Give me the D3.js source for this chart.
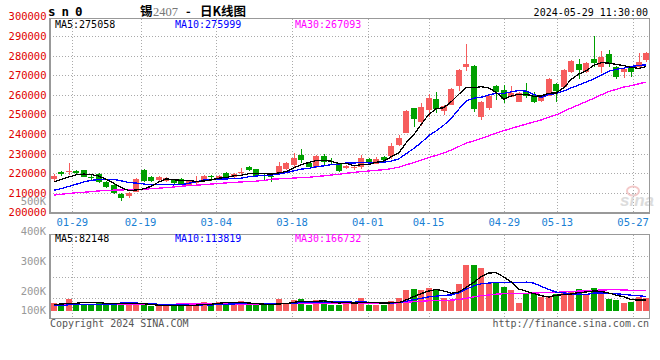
<!DOCTYPE html>
<html>
<head>
<meta charset="utf-8">
<script src="https://cdn.jsdelivr.net/npm/d3@7"></script>
<style>
  body { margin: 0; background: #fff; }
  svg { display: block; }
</style>
</head>
<body>
<div class="chart"></div>
<script>
// trading days shown (sn2407, daily)
const dates = ["01-24","01-25","01-26","01-29","01-30","01-31","02-01","02-02","02-05","02-06",
  "02-07","02-08","02-19","02-20","02-21","02-22","02-23","02-26","02-27","02-28",
  "02-29","03-01","03-04","03-05","03-06","03-07","03-08","03-11","03-12","03-13",
  "03-14","03-15","03-18","03-19","03-20","03-21","03-22","03-25","03-26","03-27",
  "03-28","03-29","04-01","04-02","04-03","04-08","04-09","04-10","04-11","04-12",
  "04-15","04-16","04-17","04-18","04-19","04-22","04-23","04-24","04-25","04-26",
  "04-29","04-30","05-06","05-07","05-08","05-09","05-10","05-13","05-14","05-15",
  "05-16","05-17","05-20","05-21","05-22","05-23","05-24","05-27","05-28","05-29"];

const opens = [217200,220900,220600,221000,221800,218400,219800,215800,214000,209300,
  208500,210800,221800,218400,216700,216300,217100,217100,214200,215400,
  216200,218700,216700,220100,218100,220300,223500,222200,219100,218700,
  219800,222200,224400,229300,225200,223200,228900,226100,225200,222700,
  223000,223500,227300,224900,228600,229100,234600,240800,253400,246300,
  252400,258000,252000,254900,264600,274200,275000,248700,253300,264600,
  262300,259200,256600,261700,260100,257100,259500,265700,264300,271600,
  275900,271600,278400,274200,281000,274200,271600,273700,274200,277900];

const closes = [218900,219700,221100,220400,218400,217600,215800,213300,209800,207700,
  209800,217200,216400,216300,218400,217900,215000,214700,216300,215800,
  218900,218100,218900,218100,219800,220600,221800,218900,218600,218200,
  223800,225500,228100,226900,223500,229100,226000,225600,221400,223800,
  223300,228100,226000,227400,226900,234000,238000,252000,247700,253800,
  258700,252900,254400,263000,272800,275700,252900,256600,259700,261700,
  258200,261200,261200,259500,256600,258900,268100,262200,272800,277500,
  272800,276500,276200,279300,276500,269400,273300,271900,276700,281300];

const highs = [219900,221400,225100,221800,222000,219600,220300,216300,214400,209800,
  210300,217700,222500,218900,218900,218200,217400,217600,216800,218900,
  219300,219100,219200,220900,220200,222700,223800,222500,219600,219300,
  226000,226000,230300,232500,225800,229400,230000,227800,225500,224300,
  224300,229400,227800,228600,229100,235700,239600,252400,253600,256000,
  260300,261700,255100,263600,273300,286100,275100,257000,260000,265100,
  265200,264600,261600,266300,261700,259200,268400,266200,273100,277900,
  278300,276900,290100,282600,283000,274600,274200,274100,281300,282100];

const lows = [216300,218900,219000,219600,218200,216700,215300,212800,209600,206200,
  207700,210400,215800,215500,215700,215500,214500,214200,213900,214200,
  215900,216300,216500,217200,217800,218700,221500,218600,216700,215900,
  219200,221800,223500,225500,223200,222900,223800,224900,220900,222200,
  221800,222200,224400,224700,226500,227300,234200,240500,243900,244200,
  248700,250700,249800,254700,262100,272400,251500,247300,252400,257500,
  255800,258900,256200,258400,255800,256600,259300,256600,264100,271100,
  268200,271400,274500,271100,274500,268200,268600,269400,273700,277000];

const volumes = [74000,63000,108000,74000,63000,63000,74000,63000,74000,74000,
  51000,74000,51000,42000,42000,42000,63000,42000,42000,74000,
  83000,63000,83000,74000,63000,90000,51000,51000,51000,51000,
  108000,74000,99000,108000,51000,99000,99000,54000,54000,74000,
  74000,116000,54000,54000,54000,90000,116000,188000,197000,188000,
  206000,188000,116000,99000,242000,412000,412000,385000,251000,260000,
  215000,188000,72000,152000,152000,125000,125000,152000,179000,179000,
  197000,143000,206000,152000,108000,99000,72000,81000,128000,114000];

// MA values before enough days are in view
const ma5Lead = [215700,217000,218200,219300];
const ma10Lead = [211400,212300,213400,214500,215700,216500,216900,217000,216900];
const ma30Lead = [209000,209400,209800,210200,210400,210700,211100,211300,211500,211600,
  211700,211900,212000,212200,212500,212800,213100,213500,213800,214000,
  214300,214600,214900,215200,215400,215700,215800,216100,216400];
const volMa5Lead = [60000,62000,68000,70000];
const volMa10Lead = [47000,47000,56000,56000,56000,56000,56000,56000,56000];
const volMa30Lead = [59000,59000,59000,60000,60000,60000,60000,60000,60000,60000,
  61000,61000,61000,61000,61000,61000,61000,62000,62000,62000,
  62000,62000,62000,63000,63000,63000,63000,63000,63000];

const dateTicks = ["01-29","02-19","03-04","03-18","04-01","04-15","04-29","05-13","05-27"];
const priceTicks = [300000,290000,280000,270000,260000,250000,240000,230000,220000,210000,200000];
const volTicks = [500000,400000,300000,200000,100000];
const volTickLabels = ["500K","400K","300K","200K","100K"];

const width = 660, height = 360;
const left = 50, right = 649.5;
const pTop = 18.5, pBottom = 213;
const vTop = 234.5, vBottom = 318.5;

const up = "#f65d5d", down = "#00a000", grid = "#aaa", frame = "#999";

const svg = d3.select(".chart")
    .append("svg")
    .attr("width", width)
    .attr("height", height)
    .style("font-family", "'DejaVu Sans Mono', monospace");

const x = d3.scaleBand()
    .domain(dates)
    .range([left, 650])
    .paddingInner(0.25)
    .paddingOuter(0.125);
const bw = x.bandwidth();
const cx = d => Math.round(x(d) + bw / 2) + 0.5;

// sina places its date grid on a slightly different step
const gridX = d3.scalePoint()
    .domain(dates)
    .range([49.6, 648.3]);

const y = d3.scaleLinear()
    .domain([200000, 300000])
    .range([212.7, 16.5]);

const vy = d3.scaleLinear()
    .domain([0, 690000])
    .range([311, 234]);

const vLabelY = d3.scaleLinear()
    .domain([200000, 500000])
    .range([291, 201]);

function movingAvg(values, n, lead) {
    return values.map((v, i) => i < n - 1 ? lead[i] : d3.mean(values.slice(i - n + 1, i + 1)));
}

const px = v => Math.round(v) + 0.5;

// ---- grids
const gp = svg.append("g").attr("shape-rendering", "crispEdges");
gp.selectAll(".hg")
    .data(priceTicks.filter(t => t > 200000 && t < 300000))
    .enter().append("line")
    .attr("x1", left).attr("x2", right)
    .attr("y1", d => px(y(d))).attr("y2", d => px(y(d)))
    .attr("stroke", grid).attr("stroke-dasharray", "1,2");

gp.selectAll(".vg")
    .data(dateTicks)
    .enter().append("line")
    .attr("x1", d => px(gridX(d))).attr("x2", d => px(gridX(d)))
    .attr("y1", pTop).attr("y2", pBottom)
    .attr("stroke", grid).attr("stroke-dasharray", "1,2");

gp.selectAll(".vhg")
    .data([1, 2, 3])
    .enter().append("line")
    .attr("x1", left).attr("x2", right)
    .attr("y1", d => px(vTop + (vBottom - vTop) * d / 4))
    .attr("y2", d => px(vTop + (vBottom - vTop) * d / 4))
    .attr("stroke", grid).attr("stroke-dasharray", "1,2");

gp.selectAll(".vvg")
    .data(dateTicks)
    .enter().append("line")
    .attr("x1", d => px(gridX(d))).attr("x2", d => px(gridX(d)))
    .attr("y1", vTop).attr("y2", vBottom)
    .attr("stroke", grid).attr("stroke-dasharray", "1,2");

// ---- sina watermark
const wm = svg.append("g").attr("opacity", 0.9);
wm.append("ellipse").attr("cx", 633).attr("cy", 191).attr("rx", 6).attr("ry", 4.5)
    .attr("fill", "none").attr("stroke", "#f3c4c4").attr("stroke-width", 2);
wm.append("text").attr("x", 620).attr("y", 206)
    .attr("font-family", "Arial, 'Liberation Sans', sans-serif")
    .attr("font-size", 17).attr("font-weight", "bold").attr("font-style", "italic")
    .attr("fill", "#d9d9d9").text("sina");

// ---- candles
const candles = svg.append("g").attr("shape-rendering", "crispEdges")
    .selectAll("g")
    .data(dates)
    .enter().append("g");

candles.append("line")
    .attr("x1", d => cx(d)).attr("x2", d => cx(d))
    .attr("y1", (d, i) => y(highs[i]))
    .attr("y2", (d, i) => y(lows[i]))
    .attr("stroke", (d, i) => closes[i] >= opens[i] ? up : down);

candles.append("rect")
    .attr("x", d => x(d))
    .attr("width", bw)
    .attr("y", (d, i) => y(Math.max(opens[i], closes[i])))
    .attr("height", (d, i) => Math.max(1, Math.abs(y(opens[i]) - y(closes[i]))))
    .attr("fill", (d, i) => closes[i] >= opens[i] ? up : down);

// ---- price MAs
const priceLine = d3.line()
    .x((d, i) => x(dates[i]) + bw / 2)
    .y(d => y(d));

const priceMAs = [
    { values: movingAvg(closes, 30, ma30Lead), color: "#ff00ff" },
    { values: movingAvg(closes, 10, ma10Lead), color: "#0000ff" },
    { values: movingAvg(closes, 5, ma5Lead), color: "#000" }
];
svg.append("g").selectAll("path")
    .data(priceMAs)
    .enter().append("path")
    .attr("d", d => priceLine(d.values))
    .attr("fill", "none")
    .attr("stroke", d => d.color)
    .attr("stroke-width", 1.3)
    .attr("shape-rendering", "crispEdges");

// ---- volume bars
svg.append("g").attr("shape-rendering", "crispEdges")
    .selectAll("rect")
    .data(dates)
    .enter().append("rect")
    .attr("x", d => x(d))
    .attr("width", bw)
    .attr("y", (d, i) => vy(volumes[i]))
    .attr("height", (d, i) => vy(0) - vy(volumes[i]))
    .attr("fill", (d, i) => closes[i] >= opens[i] ? up : down);

const volLine = d3.line()
    .x((d, i) => x(dates[i]) + bw / 2)
    .y(d => vy(d));

const volMAs = [
    { values: movingAvg(volumes, 30, volMa30Lead), color: "#ff00ff" },
    { values: movingAvg(volumes, 10, volMa10Lead), color: "#0000ff" },
    { values: movingAvg(volumes, 5, volMa5Lead), color: "#000" }
];
svg.append("g").selectAll("path")
    .data(volMAs)
    .enter().append("path")
    .attr("d", d => volLine(d.values))
    .attr("fill", "none")
    .attr("stroke", d => d.color)
    .attr("stroke-width", 1.3)
    .attr("shape-rendering", "crispEdges");

// ---- frames
svg.append("g").attr("shape-rendering", "crispEdges")
    .selectAll("rect")
    .data([[pTop, pBottom], [vTop, vBottom]])
    .enter().append("rect")
    .attr("x", left).attr("y", d => d[0])
    .attr("width", right - left).attr("height", d => d[1] - d[0])
    .attr("fill", "none").attr("stroke", frame).attr("stroke-width", 1.5);

// ---- axis labels
svg.append("g").selectAll("text")
    .data(priceTicks)
    .enter().append("text")
    .attr("x", 46.5)
    .attr("y", d => y(d))
    .attr("dy", "0.36em")
    .attr("text-anchor", "end")
    .attr("font-size", 10.5)
    .attr("fill", "#e00000")
    .text(d => d);

svg.append("g").selectAll("text")
    .data(volTicks)
    .enter().append("text")
    .attr("x", 46)
    .attr("y", d => Math.min(vLabelY(d), 310))
    .attr("dy", "0.36em")
    .attr("text-anchor", "end")
    .attr("font-size", 10.5)
    .attr("fill", "#999")
    .text((d, i) => volTickLabels[i]);

svg.append("g").selectAll("text")
    .data(dateTicks)
    .enter().append("text")
    .attr("x", d => gridX(d))
    .attr("y", 222)
    .attr("dy", "0.36em")
    .attr("text-anchor", "middle")
    .attr("font-size", 10.5)
    .attr("fill", "#1a7fd4")
    .text(d => d);

// ---- legends
const priceLegend = [
    { t: "MA5:275058", c: "#000", x: 55 },
    { t: "MA10:275999", c: "#0000ff", x: 175 },
    { t: "MA30:267093", c: "#ff00ff", x: 295 }
];
const volLegend = [
    { t: "MA5:82148", c: "#000", x: 55 },
    { t: "MA10:113819", c: "#0000ff", x: 175 },
    { t: "MA30:166732", c: "#ff00ff", x: 295 }
];
svg.append("g").selectAll("text")
    .data(priceLegend)
    .enter().append("text")
    .attr("x", d => d.x).attr("y", 27.5)
    .attr("font-size", 10).attr("fill", d => d.c)
    .text(d => d.t);
svg.append("g").selectAll("text")
    .data(volLegend)
    .enter().append("text")
    .attr("x", d => d.x).attr("y", 242)
    .attr("font-size", 10).attr("fill", d => d.c)
    .text(d => d.t);

// ---- header and footer
svg.append("text")
    .attr("x", 48).attr("y", 16)
    .attr("font-size", 12.5).attr("font-weight", "bold")
    .attr("letter-spacing", -0.8)
    .text("s n 0");

const titleParts = [
    { t: "锡", x: 140, c: "#000", f: "'Noto Sans CJK SC', sans-serif", w: "bold" },
    { t: "2407", x: 153, c: "#777", f: "'Liberation Serif', serif", w: "normal" },
    { t: "-", x: 186, c: "#000", f: "'Noto Sans CJK SC', sans-serif", w: "bold" },
    { t: "日K线图", x: 200, c: "#000", f: "'Noto Sans CJK SC', sans-serif", w: "bold" }
];
svg.append("g").selectAll("text")
    .data(titleParts)
    .enter().append("text")
    .attr("x", d => d.x).attr("y", 16)
    .attr("font-family", d => d.f)
    .attr("font-weight", d => d.w)
    .attr("font-size", 12.5)
    .attr("fill", d => d.c)
    .text(d => d.t);

svg.append("text")
    .attr("x", 648).attr("y", 15.5)
    .attr("text-anchor", "end")
    .attr("font-size", 10)
    .text("2024-05-29 11:30:00");

svg.append("text")
    .attr("x", 50).attr("y", 327)
    .attr("font-size", 10).attr("fill", "#555")
    .text("Copyright 2024 SINA.COM");

svg.append("text")
    .attr("x", 649).attr("y", 327)
    .attr("text-anchor", "end")
    .attr("font-size", 10).attr("fill", "#555")
    .text("http://finance.sina.com.cn");
</script>
</body>
</html>
